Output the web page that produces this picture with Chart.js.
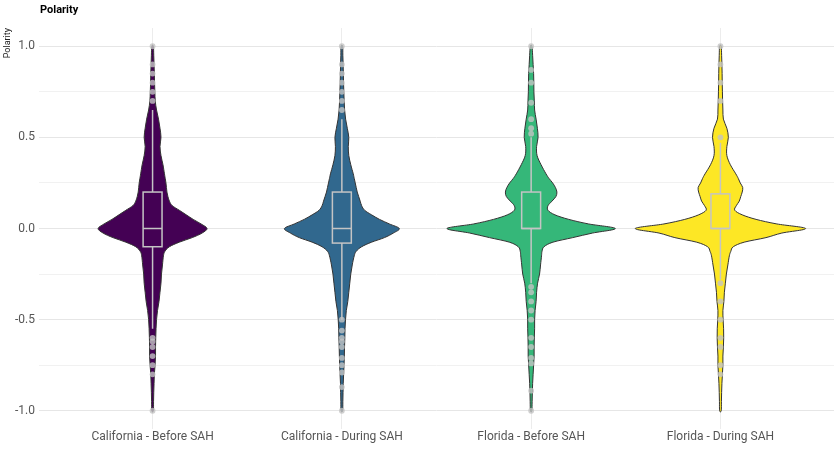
<!DOCTYPE html>
<html lang="en">
<head>
<meta charset="UTF-8">
<title>Polarity</title>
<script src="https://cdn.jsdelivr.net/npm/chart.js"></script>
<style>
    html, body { margin: 0; padding: 0; background: #fff; }
    canvas { display: block; }
</style>
</head>
<body>
<canvas id="polarityChart" width="838" height="449"></canvas>
<script>
    // Groups along the x axis and their fills (viridis, 4 levels)
    const groups = ['California - Before SAH', 'California - During SAH', 'Florida - Before SAH', 'Florida - During SAH'];
    const fillColors = ['#440154', '#31688E', '#35B779', '#FDE725'];

    // Y axis ticks (minor ones carry no label)
    const yTickValues = [-1, -0.75, -0.5, -0.25, 0, 0.25, 0.5, 0.75, 1];
    const yTickLabels = ['-1.0', '', '-0.5', '', '0.0', '', '0.5', '', '1.0'];

    // Polarity levels where the density of each group is given
    const levels = [1.0, 0.95, 0.9, 0.85, 0.8, 0.75, 0.7, 0.65, 0.6, 0.55, 0.5, 0.45, 0.4, 0.35, 0.3,
                    0.275, 0.25, 0.225, 0.2, 0.175, 0.15, 0.125, 0.1, 0.075, 0.05, 0.025, 0, -0.025, -0.05, -0.075, -0.1, -0.125, -0.15,
                    -0.2, -0.25, -0.3, -0.35, -0.4, -0.45, -0.5, -0.55, -0.6, -0.65, -0.7, -0.75, -0.8, -0.85, -0.9, -0.95, -1.0];

    // Relative density per group (same order as levels)
    const densCaBefore = [0.8, 1.2, 1.5, 1.8, 2, 2.3, 2.7, 4, 6, 7.5, 8.5, 7.5, 8.5, 10.5, 12,
                          12.8, 13.5, 14, 14.5, 15.5, 17, 20, 27, 34, 41, 49, 55, 50, 40, 27, 17, 12.5, 11,
                          10, 9, 8.5, 7.5, 6.5, 5, 4, 3.5, 3.2, 3, 3, 2.5, 1.8, 1.5, 1.2, 1, 0.8];
    const densCaDuring = [0.8, 1, 1.3, 1.5, 1.7, 2, 2.3, 2.8, 3.8, 5.5, 7, 6.5, 7, 9, 11.5,
                          12.5, 13.5, 14.5, 15.5, 17, 18.5, 20, 23, 30, 38, 48, 58, 52, 43, 30, 20, 14.5, 12.5,
                          10.5, 9, 8, 7, 6, 4.5, 3.7, 3.2, 3, 2.7, 2.5, 2.2, 1.8, 1.4, 1.2, 1, 0.8];
    const densFlBefore = [0.8, 1.5, 2, 2.5, 2.7, 2.8, 3.2, 3.5, 5, 6.3, 7, 5.5, 6, 10, 15,
                          18, 21.7, 24.5, 26, 25, 21, 17, 17, 24, 38, 58, 85, 62, 42, 22, 13, 11, 10.5,
                          9.5, 8.5, 6.5, 5.5, 5, 4, 3.5, 3.5, 3.2, 3, 3, 2.5, 2, 1.5, 1.2, 1, 0.7];
    const densFlDuring = [0.8, 1.2, 1.5, 1.7, 1.8, 2, 2.2, 2.5, 3, 6.5, 8, 6.5, 6.5, 10, 15.5,
                          18, 20, 22.5, 22, 20.5, 19, 16, 14.5, 22, 36, 57, 86, 62, 46, 24, 13, 10.5, 9,
                          7.5, 6, 5, 4, 3.5, 2.5, 2.7, 3.2, 3.3, 3, 2.5, 2.5, 2, 1.5, 1.2, 1, 0.8];

    // Box plot statistics per group
    const q1 = [-0.1, -0.08, 0, 0];
    const medians = [0, 0, 0, 0];
    const q3 = [0.2, 0.2, 0.2, 0.19];
    const whiskerLow = [-0.55, -0.5, -0.3, -0.28];
    const whiskerHigh = [0.65, 0.6, 0.5, 0.47];

    // Outlying tweets per group
    const outCaBefore = [1.0, 0.9, 0.85, 0.8, 0.75, 0.7, -0.6, -0.62, -0.65, -0.7, -0.75, -0.8, -1.0];
    const outCaDuring = [1.0, 0.9, 0.85, 0.8, 0.75, 0.7, 0.65, -0.5, -0.56, -0.6, -0.62, -0.65, -0.71, -0.75, -0.79, -0.87, -1.0];
    const outFlBefore = [1.0, 0.87, 0.8, 0.69, 0.6, 0.55, 0.52, -0.32, -0.35, -0.4, -0.45, -0.5, -0.6, -0.65, -0.71, -0.74, -0.89, -1.0];
    const outFlDuring = [1.0, 0.9, 0.8, 0.7, 0.5, -0.3, -0.4, -0.5, -0.6, -0.65, -0.75, -0.8];

    const densities = [densCaBefore, densCaDuring, densFlBefore, densFlDuring];
    const outliers = [outCaBefore, outCaDuring, outFlBefore, outFlDuring];

    const maxHalfWidth = 0.45;   // in category units
    const boxHalfWidth = 0.05;

    // closed Catmull-Rom curve through the outline points
    function smoothPath(ctx, pts) {
        const n = pts.length;
        ctx.beginPath();
        ctx.moveTo(pts[0][0], pts[0][1]);
        for (let i = 0; i < n; i++) {
            const p0 = pts[(i - 1 + n) % n], p1 = pts[i], p2 = pts[(i + 1) % n], p3 = pts[(i + 2) % n];
            ctx.bezierCurveTo(
                p1[0] + (p2[0] - p0[0]) / 6, p1[1] + (p2[1] - p0[1]) / 6,
                p2[0] - (p3[0] - p1[0]) / 6, p2[1] - (p3[1] - p1[1]) / 6,
                p2[0], p2[1]);
        }
        ctx.closePath();
    }

    const violinPlugin = {
        id: 'violins',
        beforeDatasetsDraw(chart) {
            const { ctx, scales: { x, y } } = chart;
            const maxDens = Math.max(...densities.flat());
            ctx.save();
            densities.forEach((dens, i) => {
                const c = i + 1;
                const right = levels.map((lv, k) => [x.getPixelForValue(c + dens[k] / maxDens * maxHalfWidth), y.getPixelForValue(lv)]);
                const left = levels.map((lv, k) => [x.getPixelForValue(c - dens[k] / maxDens * maxHalfWidth), y.getPixelForValue(lv)]).reverse();
                smoothPath(ctx, right.concat(left));
                ctx.fillStyle = fillColors[i];
                ctx.fill();
                ctx.lineWidth = 1;
                ctx.strokeStyle = '#333333';
                ctx.stroke();

                // box + whiskers
                const xl = x.getPixelForValue(c - boxHalfWidth);
                const xr = x.getPixelForValue(c + boxHalfWidth);
                const xc = x.getPixelForValue(c);
                ctx.strokeStyle = '#c4c4c4';
                ctx.lineWidth = 1.5;
                ctx.beginPath();
                ctx.moveTo(xc, y.getPixelForValue(q3[i]));
                ctx.lineTo(xc, y.getPixelForValue(whiskerHigh[i]));
                ctx.moveTo(xc, y.getPixelForValue(q1[i]));
                ctx.lineTo(xc, y.getPixelForValue(whiskerLow[i]));
                ctx.stroke();
                const yTop = y.getPixelForValue(q3[i]);
                const yBot = y.getPixelForValue(q1[i]);
                ctx.strokeRect(xl, yTop, xr - xl, yBot - yTop);
                ctx.beginPath();
                ctx.moveTo(xl, y.getPixelForValue(medians[i]));
                ctx.lineTo(xr, y.getPixelForValue(medians[i]));
                ctx.stroke();
            });
            ctx.restore();
        },
        afterDraw(chart) {
            const { ctx, chartArea } = chart;
            ctx.save();
            ctx.font = 'bold 11px Roboto';
            ctx.fillStyle = '#000';
            ctx.textBaseline = 'middle';
            ctx.fillText('Polarity', chartArea.left + 1, 10);
            ctx.restore();
        }
    };

    const polarityChart = new Chart(document.getElementById('polarityChart'), {
        type: 'scatter',
        data: {
            datasets: outliers.map((vals, i) => ({
                label: groups[i],
                data: vals.map(v => ({ x: i + 1, y: v })),
                pointRadius: 2.9,
                pointBackgroundColor: 'rgba(195, 195, 195, 0.8)',
                pointBorderWidth: 0
            }))
        },
        options: {
            responsive: false,
            animation: false,
            layout: { padding: { top: 28, right: 1, left: 0, bottom: 0 } },
            plugins: {
                legend: { display: false },
                tooltip: { enabled: false }
            },
            scales: {
                x: {
                    type: 'linear',
                    min: 0.4,
                    max: 4.6,
                    afterBuildTicks: s => { s.ticks = groups.map((g, i) => ({ value: i + 1 })); },
                    afterFit: s => { s.height = 20; },
                    ticks: {
                        callback: v => groups[v - 1],
                        color: '#555555',
                        font: { family: 'Roboto', size: 12 },
                        padding: 1,
                        maxRotation: 0,
                        autoSkip: false
                    },
                    grid: { color: '#ececec', lineWidth: 1, drawTicks: false },
                    border: { display: false }
                },
                y: {
                    min: -1.1,
                    max: 1.1,
                    afterBuildTicks: s => { s.ticks = yTickValues.map(v => ({ value: v })); },
                    afterFit: s => { s.width = 39; },
                    ticks: {
                        callback: (v, i) => yTickLabels[i],
                        color: '#555555',
                        font: { family: 'Roboto', size: 12 },
                        padding: 4,
                        autoSkip: false
                    },
                    grid: {
                        color: c => (yTickLabels[c.index] ? '#e6e6e6' : '#f1f1f1'),
                        lineWidth: 1,
                        drawTicks: false
                    },
                    border: { display: false },
                    title: {
                        display: true,
                        text: 'Polarity',
                        align: 'end',
                        color: '#222222',
                        font: { family: 'Roboto', size: 9 },
                        padding: { top: 2, bottom: 0 }
                    }
                }
            }
        },
        plugins: [violinPlugin]
    });
</script>
</body>
</html>
